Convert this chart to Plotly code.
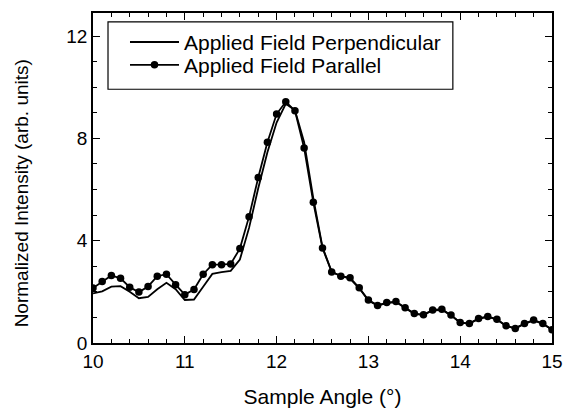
import plotly.graph_objects as go

# Sample angle grid (degrees)
angle = [10.0, 10.1, 10.2, 10.3, 10.4, 10.5, 10.6, 10.7, 10.8, 10.9,
         11.0, 11.1, 11.2, 11.3, 11.4, 11.5, 11.6, 11.7, 11.8, 11.9,
         12.0, 12.1, 12.2, 12.3, 12.4, 12.5, 12.6, 12.7, 12.8, 12.9,
         13.0, 13.1, 13.2, 13.3, 13.4, 13.5, 13.6, 13.7, 13.8, 13.9,
         14.0, 14.1, 14.2, 14.3, 14.4, 14.5, 14.6, 14.7, 14.8, 14.9,
         15.0]

# Normalized intensity, field perpendicular
perpendicular = [1.94, 2.02, 2.20, 2.22, 2.00, 1.75, 1.80, 2.10, 2.35, 2.10,
                 1.68, 1.70, 2.20, 2.70, 2.77, 2.82, 3.26, 4.50, 6.05, 7.46,
                 8.62, 9.35, 9.10, 7.85, 5.65, 3.75, 2.78, 2.62, 2.52, 2.14,
                 1.66, 1.46, 1.56, 1.60, 1.37, 1.14, 1.10, 1.27, 1.30, 1.08,
                 0.80, 0.76, 0.94, 1.02, 0.92, 0.67, 0.57, 0.75, 0.88, 0.75,
                 0.52]

# Normalized intensity, field parallel
parallel = [2.15, 2.40, 2.64, 2.53, 2.18, 1.99, 2.21, 2.61, 2.69, 2.28,
            1.89, 2.09, 2.69, 3.06, 3.06, 3.09, 3.69, 4.94, 6.47, 7.85,
            8.95, 9.43, 9.08, 7.62, 5.50, 3.71, 2.78, 2.61, 2.55, 2.16,
            1.68, 1.47, 1.58, 1.62, 1.38, 1.15, 1.10, 1.29, 1.32, 1.09,
            0.80, 0.76, 0.96, 1.04, 0.93, 0.67, 0.57, 0.76, 0.90, 0.76,
            0.52]

FONT = "Liberation Sans, Arial, Helvetica, sans-serif"
LEGEND_FONT = dict(family=FONT, size=21, color="black")

fig = go.Figure()
fig.add_trace(go.Scatter(
    x=angle, y=perpendicular, mode="lines",
    name="Applied Field Perpendicular",
    line=dict(color="black", width=1.8),
    legend="legend",
))
fig.add_trace(go.Scatter(
    x=angle, y=parallel, mode="lines+markers",
    name="Applied Field Parallel",
    line=dict(color="black", width=1.8),
    marker=dict(color="black", size=7.5),
    legend="legend2",
))

axis_common = dict(
    showgrid=False, zeroline=False,
    showline=True, linecolor="black", linewidth=1.5,
    mirror="allticks",
    ticks="inside", ticklen=7, tickwidth=1.2, tickcolor="black",
    tickfont=dict(family=FONT, size=19, color="black"),
)

fig.update_xaxes(
    range=[10, 15], dtick=1, tick0=10,
    minor=dict(dtick=0.2, ticks="inside", ticklen=4, tickcolor="black", tickwidth=1),
    title=dict(text="Sample Angle (°)", font=dict(family=FONT, size=21, color="black"), standoff=19),
    **axis_common,
)
fig.update_yaxes(
    range=[0, 12.9], dtick=4, tick0=0,
    minor=dict(dtick=1, ticks="inside", ticklen=4, tickcolor="black", tickwidth=1),
    **axis_common,
)

# Vertical axis caption, centred a little below the plot middle
fig.add_annotation(
    text="Normalized Intensity (arb. units)",
    xref="paper", yref="paper", x=-0.155, y=0.453,
    xanchor="center", yanchor="middle", textangle=-90,
    showarrow=False, font=dict(family=FONT, size=19, color="black"),
)

# Frame around the two legend rows
fig.add_shape(
    type="rect", xref="paper", yref="paper",
    x0=0.0327, x1=0.784, y0=0.769, y1=0.973,
    line=dict(color="black", width=1.2), fillcolor="white", layer="above",
)

legend_common = dict(
    x=0.0697, xanchor="left", yanchor="middle",
    bgcolor="rgba(0,0,0,0)", borderwidth=0,
    font=LEGEND_FONT, itemwidth=49,
)

fig.update_layout(
    width=574, height=416,
    margin=dict(l=93, r=22, t=11, b=72),
    plot_bgcolor="white", paper_bgcolor="white",
    font=dict(family=FONT, color="black"),
    showlegend=True,
    legend=dict(y=0.911, **legend_common),
    legend2=dict(y=0.842, **legend_common),
)

fig.write_html("out.html")
